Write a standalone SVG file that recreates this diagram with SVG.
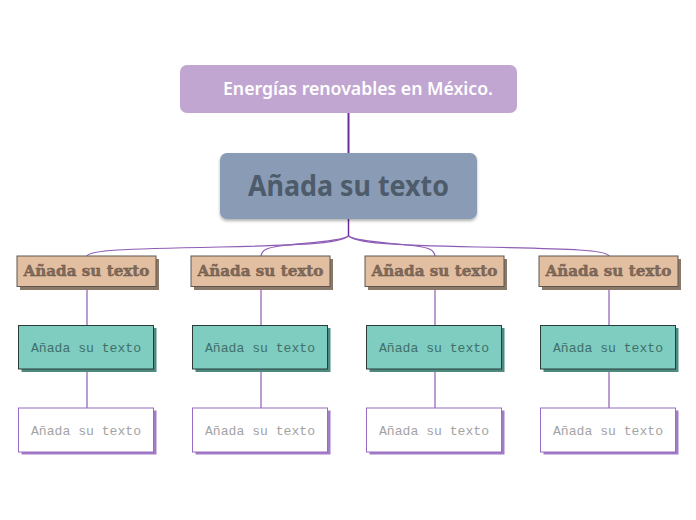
<svg xmlns="http://www.w3.org/2000/svg" width="696" height="520" viewBox="0 0 696 520">
<defs>
<filter id="sh" x="-10%" y="-20%" width="120%" height="150%">
<feDropShadow dx="0" dy="2" stdDeviation="1.5" flood-color="#000" flood-opacity="0.3"/>
</filter>
</defs>
<style>
.conn{fill:none;stroke:#8e5cb5;stroke-width:1.2}
.t1{fill:#e2bfa1;stroke:#5e5650;stroke-width:1}
.t1s{fill:#8a7868}
.t1x{font-family:"DejaVu Serif",serif;font-weight:bold;font-size:15px;fill:#806a5a;stroke:#6a5446;stroke-width:0.4;text-anchor:middle}
.t2{fill:#7ecdc0;stroke:#2b3b38;stroke-width:1}
.t2s{fill:#4e8a80}
.t2x{font-family:"Liberation Mono",monospace;font-size:13px;fill:#41706a;text-anchor:middle}
.t3{fill:#fff;stroke:#9a6bc2;stroke-width:1}
.t3s{fill:#a27cc6}
.t3x{font-family:"Liberation Mono",monospace;font-size:13px;fill:#a3a3a3;text-anchor:middle}
</style>
<rect width="696" height="520" fill="#fff"/>
<g id="connectors">
<line x1="348.5" y1="113" x2="348.5" y2="153" stroke="#6a2c9c" stroke-width="2"/>
<line x1="348.5" y1="219" x2="348.5" y2="236" stroke="#6a2c9c" stroke-width="1.5"/>
<path class="conn" d="M348.5,236 C340,243 310,245 220,247 C120,249 90,250 87,256"/>
<path class="conn" d="M348.5,236 C340,242 300,243 280,246 C266,248 262,250 261,256"/>
<path class="conn" d="M348.5,236 C356,242 396,243 416,246 C430,248 434,250 435,256"/>
<path class="conn" d="M348.5,236 C357,243 387,245 477,247 C577,249 606,250 609,256"/>
<line class="conn" x1="87" y1="287" x2="87" y2="325"/>
<line class="conn" x1="87" y1="369" x2="87" y2="408"/>
<line class="conn" x1="261" y1="287" x2="261" y2="325"/>
<line class="conn" x1="261" y1="369" x2="261" y2="408"/>
<line class="conn" x1="435" y1="287" x2="435" y2="325"/>
<line class="conn" x1="435" y1="369" x2="435" y2="408"/>
<line class="conn" x1="609" y1="287" x2="609" y2="325"/>
<line class="conn" x1="609" y1="369" x2="609" y2="408"/>
</g>
<g id="root">
<rect x="180" y="65" width="337" height="48" rx="7" fill="#c1a6d2"/>
<text x="358" y="95" font-family="'Noto Sans',sans-serif" font-weight="600" font-size="18" fill="#fff" text-anchor="middle" textLength="270" lengthAdjust="spacingAndGlyphs">Energías renovables en México.</text>
</g>
<g id="central">
<rect x="220" y="153" width="257" height="66" rx="7" fill="#8a9cb5" filter="url(#sh)"/>
<text x="348.5" y="196" font-family="'Noto Sans',sans-serif" font-weight="bold" font-size="28" fill="#4e5b6b" text-anchor="middle" textLength="201" lengthAdjust="spacingAndGlyphs">Añada su texto</text>
</g>
<g id="b1">
<rect class="t1s" x="20" y="259" width="139" height="31"/>
<rect class="t1" x="17" y="256" width="139" height="30.5"/>
<text class="t1x" x="86.5" y="276" textLength="126" lengthAdjust="spacingAndGlyphs">Añada su texto</text>
</g>
<g id="b2">
<rect class="t1s" x="194" y="259" width="139" height="31"/>
<rect class="t1" x="191" y="256" width="139" height="30.5"/>
<text class="t1x" x="260.5" y="276" textLength="126" lengthAdjust="spacingAndGlyphs">Añada su texto</text>
</g>
<g id="b3">
<rect class="t1s" x="368" y="259" width="139" height="31"/>
<rect class="t1" x="365" y="256" width="139" height="30.5"/>
<text class="t1x" x="434.5" y="276" textLength="126" lengthAdjust="spacingAndGlyphs">Añada su texto</text>
</g>
<g id="b4">
<rect class="t1s" x="542" y="259" width="139" height="31"/>
<rect class="t1" x="539" y="256" width="139" height="30.5"/>
<text class="t1x" x="608.5" y="276" textLength="126" lengthAdjust="spacingAndGlyphs">Añada su texto</text>
</g>
<g id="c1">
<rect class="t2s" x="21.5" y="328" width="135" height="44"/>
<rect class="t2" x="18.5" y="325.5" width="135" height="43.5"/>
<text class="t2x" x="86" y="351.5" textLength="110" lengthAdjust="spacingAndGlyphs">Añada su texto</text>
</g>
<g id="c2">
<rect class="t2s" x="195.5" y="328" width="135" height="44"/>
<rect class="t2" x="192.5" y="325.5" width="135" height="43.5"/>
<text class="t2x" x="260" y="351.5" textLength="110" lengthAdjust="spacingAndGlyphs">Añada su texto</text>
</g>
<g id="c3">
<rect class="t2s" x="369.5" y="328" width="135" height="44"/>
<rect class="t2" x="366.5" y="325.5" width="135" height="43.5"/>
<text class="t2x" x="434" y="351.5" textLength="110" lengthAdjust="spacingAndGlyphs">Añada su texto</text>
</g>
<g id="c4">
<rect class="t2s" x="543.5" y="328" width="135" height="44"/>
<rect class="t2" x="540.5" y="325.5" width="135" height="43.5"/>
<text class="t2x" x="608" y="351.5" textLength="110" lengthAdjust="spacingAndGlyphs">Añada su texto</text>
</g>
<g id="d1">
<rect class="t3s" x="21.5" y="410.5" width="135" height="44"/>
<rect class="t3" x="18.5" y="408" width="135" height="44"/>
<text class="t3x" x="86" y="434.5" textLength="110" lengthAdjust="spacingAndGlyphs">Añada su texto</text>
</g>
<g id="d2">
<rect class="t3s" x="195.5" y="410.5" width="135" height="44"/>
<rect class="t3" x="192.5" y="408" width="135" height="44"/>
<text class="t3x" x="260" y="434.5" textLength="110" lengthAdjust="spacingAndGlyphs">Añada su texto</text>
</g>
<g id="d3">
<rect class="t3s" x="369.5" y="410.5" width="135" height="44"/>
<rect class="t3" x="366.5" y="408" width="135" height="44"/>
<text class="t3x" x="434" y="434.5" textLength="110" lengthAdjust="spacingAndGlyphs">Añada su texto</text>
</g>
<g id="d4">
<rect class="t3s" x="543.5" y="410.5" width="135" height="44"/>
<rect class="t3" x="540.5" y="408" width="135" height="44"/>
<text class="t3x" x="608" y="434.5" textLength="110" lengthAdjust="spacingAndGlyphs">Añada su texto</text>
</g>
</svg>
